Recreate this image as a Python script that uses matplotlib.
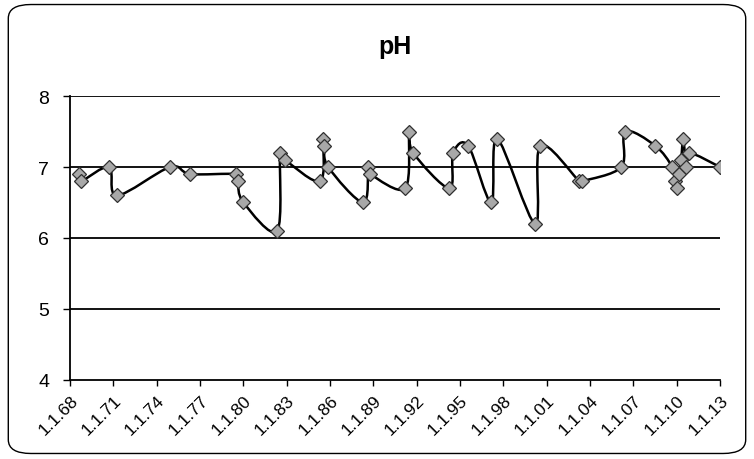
import numpy as np
import matplotlib
matplotlib.use("Agg")
import matplotlib.pyplot as plt
from matplotlib.path import Path
from matplotlib.patches import PathPatch, FancyBboxPatch

plt.rcParams['font.family'] = ['Liberation Sans', 'DejaVu Sans']

# sample dates as decimal years
years = [1968.62, 1968.76, 1970.70, 1971.25, 1974.92, 1976.31, 1979.50, 1979.60,
         1980.00, 1982.33, 1982.54, 1982.89, 1985.31, 1985.52, 1985.60, 1985.87,
         1988.29, 1988.64, 1988.78, 1991.20, 1991.48, 1991.75, 1994.25, 1994.52,
         1995.56, 1997.16, 1997.57, 2000.20, 2000.55, 2003.25, 2003.45, 2006.16,
         2006.44, 2008.51, 2009.69, 2009.90, 2010.03, 2010.17, 2010.31, 2010.45,
         2010.66, 2010.85, 2013.00]
ph = [6.9, 6.8, 7.0, 6.6, 7.0, 6.9, 6.9, 6.8,
      6.5, 6.1, 7.2, 7.1, 6.8, 7.4, 7.3, 7.0,
      6.5, 7.0, 6.9, 6.7, 7.5, 7.2, 6.7, 7.2,
      7.3, 6.5, 7.4, 6.2, 7.3, 6.8, 6.8, 7.0,
      7.5, 7.3, 7.0, 6.8, 6.7, 6.9, 7.1, 7.4,
      7.0, 7.2, 7.0]

tick_years = list(range(1968, 2014, 3))
tick_labels = ['1.1.68', '1.1.71', '1.1.74', '1.1.77', '1.1.80', '1.1.83',
               '1.1.86', '1.1.89', '1.1.92', '1.1.95', '1.1.98', '1.1.01',
               '1.1.04', '1.1.07', '1.1.10', '1.1.13']


def smooth_path(xs, ys):
    # Excel-style smoothed line: cubic bezier through each point
    p = np.column_stack([xs, ys])
    n = len(p)
    verts = [p[0]]
    codes = [Path.MOVETO]
    for i in range(n - 1):
        p0 = p[i - 1] if i > 0 else p[i]
        p3 = p[i + 2] if i + 2 < n else p[i + 1]
        c1 = p[i] + (p[i + 1] - p0) / 6.0
        c2 = p[i + 1] - (p3 - p[i]) / 6.0
        verts += [c1, c2, p[i + 1]]
        codes += [Path.CURVE4] * 3
    return Path(verts, codes)


fig = plt.figure(figsize=(7.54, 4.6), dpi=100)
fig.patches.append(FancyBboxPatch((0.011, 0.012), 0.978, 0.976,
                                  boxstyle="round,pad=0,rounding_size=0.03",
                                  transform=fig.transFigure, fill=False,
                                  edgecolor='black', linewidth=1.0))

ax = fig.add_axes([0.093, 0.172, 0.862, 0.617])
ax.set_xlim(1968, 2013)
ax.set_ylim(4, 8)

for v in [5, 6, 7, 8]:
    ax.axhline(v, color='black', linewidth=1.3, zorder=1)

ax.add_patch(PathPatch(smooth_path(years, ph), fill=False, edgecolor='black',
                       linewidth=1.8, zorder=2))
ax.plot(years, ph, linestyle='none', marker='D', markersize=7,
        markerfacecolor='#a8a8a8', markeredgecolor='#303030',
        markeredgewidth=0.9, zorder=3)

ax.set_yticks([4, 5, 6, 7, 8])
ax.set_yticklabels(['4', '5', '6', '7', '8'], fontsize=14)
ax.set_xticks(tick_years)
ax.set_xticklabels(tick_labels, rotation=45, ha='right', rotation_mode='anchor',
                   fontsize=12.5)
ax.tick_params(axis='y', length=5, width=1.0, pad=10, direction='out')
ax.tick_params(axis='x', length=4, width=1.0, pad=5, direction='out')

for side in ['top', 'right']:
    ax.spines[side].set_visible(False)
ax.spines['left'].set_linewidth(1.3)
ax.spines['bottom'].set_linewidth(1.3)

fig.text(0.524, 0.897, 'pH', ha='center', va='center', fontsize=18,
         fontweight='bold')

fig.savefig('out.png', dpi=100)
